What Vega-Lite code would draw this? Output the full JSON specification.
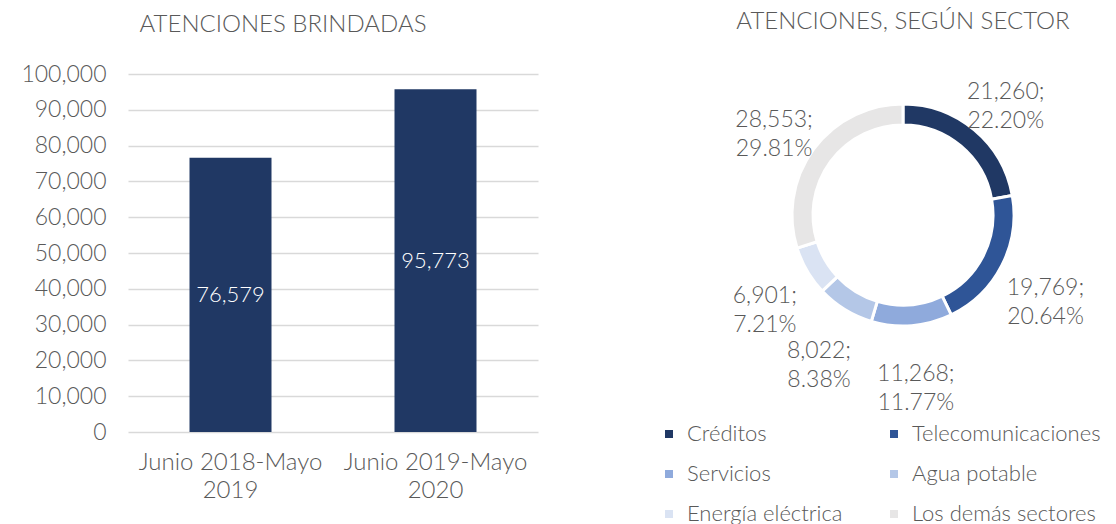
{
  "$schema": "https://vega.github.io/schema/vega-lite/v6.json",
  "padding": {"left": 20, "top": 10, "right": 5, "bottom": 5},
  "background": "white",
  "config": {
    "font": "Lato",
    "view": {"stroke": null},
    "text": {"font": "Lato"},
    "title": {"font": "Lato", "fontWeight": 300, "fontSize": 24, "color": "#595959"}
  },
  "spacing": 165,
  "hconcat": [
    {
      "width": 410,
      "height": 358,
      "title": {"text": "ATENCIONES BRINDADAS", "offset": 26, "dx": -50},
      "data": {"values": [
        {"periodo": "Junio 2018-Mayo 2019", "atenciones": 76579},
        {"periodo": "Junio 2019-Mayo 2020", "atenciones": 95773}
      ]},
      "transform": [{"calculate": "datum.atenciones / 2", "as": "mitad"}],
      "layer": [
        {
          "mark": {"type": "bar", "color": "#203864"},
          "encoding": {
            "x": {"field": "periodo", "type": "nominal", "sort": null,
              "scale": {"paddingInner": 0.6, "paddingOuter": 0.3},
              "axis": {"title": null, "labelAngle": 0, "domain": false, "ticks": false, "labelLimit": 400,
                "labelFont": "Lato", "labelFontWeight": 300, "labelFontSize": 24, "labelColor": "#595959",
                "labelPadding": 18, "labelLineHeight": 28,
                "labelExpr": "[slice(datum.label, 0, 15), slice(datum.label, 16)]"}},
            "y": {"field": "atenciones", "type": "quantitative",
              "scale": {"domain": [0, 100000]},
              "axis": {"title": null, "values": [0,10000,20000,30000,40000,50000,60000,70000,80000,90000,100000],
                "labelExpr": "format(datum.value, ',')", "domain": false, "ticks": false, "gridColor": "#d9d9d9", "gridWidth": 1.5,
                "labelFont": "Lato", "labelFontWeight": 300, "labelFontSize": 23, "labelColor": "#595959", "labelPadding": 22}}
          }
        },
        {
          "mark": {"type": "text", "color": "white", "fontSize": 22, "fontWeight": 300, "baseline": "middle"},
          "encoding": {
            "x": {"field": "periodo", "type": "nominal", "sort": null,
              "axis": {"title": null, "labelAngle": 0, "domain": false, "ticks": false, "labelLimit": 400,
                "labelFont": "Lato", "labelFontWeight": 300, "labelFontSize": 24, "labelColor": "#595959",
                "labelPadding": 18, "labelLineHeight": 28,
                "labelExpr": "[slice(datum.label, 0, 15), slice(datum.label, 16)]"}},
            "y": {"field": "mitad", "type": "quantitative",
              "axis": {"title": null, "values": [0,10000,20000,30000,40000,50000,60000,70000,80000,90000,100000],
                "labelExpr": "format(datum.value, ',')", "domain": false, "ticks": false, "gridColor": "#d9d9d9", "gridWidth": 1.5,
                "labelFont": "Lato", "labelFontWeight": 300, "labelFontSize": 23, "labelColor": "#595959", "labelPadding": 22}},
            "text": {"field": "atenciones", "type": "quantitative", "format": ","}
          }
        }
      ]
    },
    {
      "width": 400,
      "height": 282,
      "title": {"text": "ATENCIONES, SEGÚN SECTOR", "offset": 40},
      "data": {"values": [
        {"sector": "Créditos", "i": 1, "atenciones": 21260, "etiqueta": "21,260;\n22.20%"},
        {"sector": "Telecomunicaciones", "i": 2, "atenciones": 19769, "etiqueta": "19,769;\n20.64%"},
        {"sector": "Servicios", "i": 3, "atenciones": 11268, "etiqueta": "11,268;\n11.77%"},
        {"sector": "Agua potable", "i": 4, "atenciones": 8022, "etiqueta": "8,022;\n8.38%"},
        {"sector": "Energía eléctrica", "i": 5, "atenciones": 6901, "etiqueta": "6,901;\n7.21%"},
        {"sector": "Los demás sectores", "i": 6, "atenciones": 28553, "etiqueta": "28,553;\n29.81%"}
      ]},
      "encoding": {
        "theta": {"field": "atenciones", "type": "quantitative", "stack": true},
        "order": {"field": "i", "type": "quantitative"}
      },
      "layer": [
        {
          "mark": {"type": "arc", "innerRadius": 90, "outerRadius": 111, "stroke": "white", "strokeWidth": 3},
          "encoding": {
            "color": {"field": "sector", "type": "nominal",
              "scale": {"domain": ["Créditos", "Telecomunicaciones", "Servicios", "Agua potable", "Energía eléctrica", "Los demás sectores"],
                "range": ["#203864", "#2F5597", "#8FAADC", "#B4C7E7", "#DAE3F3", "#E7E6E6"]},
              "legend": {"title": null, "orient": "none", "legendX": 530, "legendY": 349, "columns": 2, "direction": "horizontal",
                "symbolType": "square", "symbolSize": 64, "symbolStrokeWidth": 0,
                "labelFont": "Lato", "labelFontWeight": 300, "labelFontSize": 22, "labelColor": "#595959",
                "labelLimit": 300, "columnPadding": 40, "rowPadding": 18, "labelOffset": 7}}
          }
        },
        {
          "mark": {"type": "text", "radius": 160, "fontSize": 23, "fontWeight": 300, "color": "#595959",
            "lineBreak": "\n", "lineHeight": 29, "align": "center", "baseline": "middle"},
          "encoding": {
            "text": {"field": "etiqueta", "type": "nominal"}
          }
        }
      ]
    }
  ]
}
